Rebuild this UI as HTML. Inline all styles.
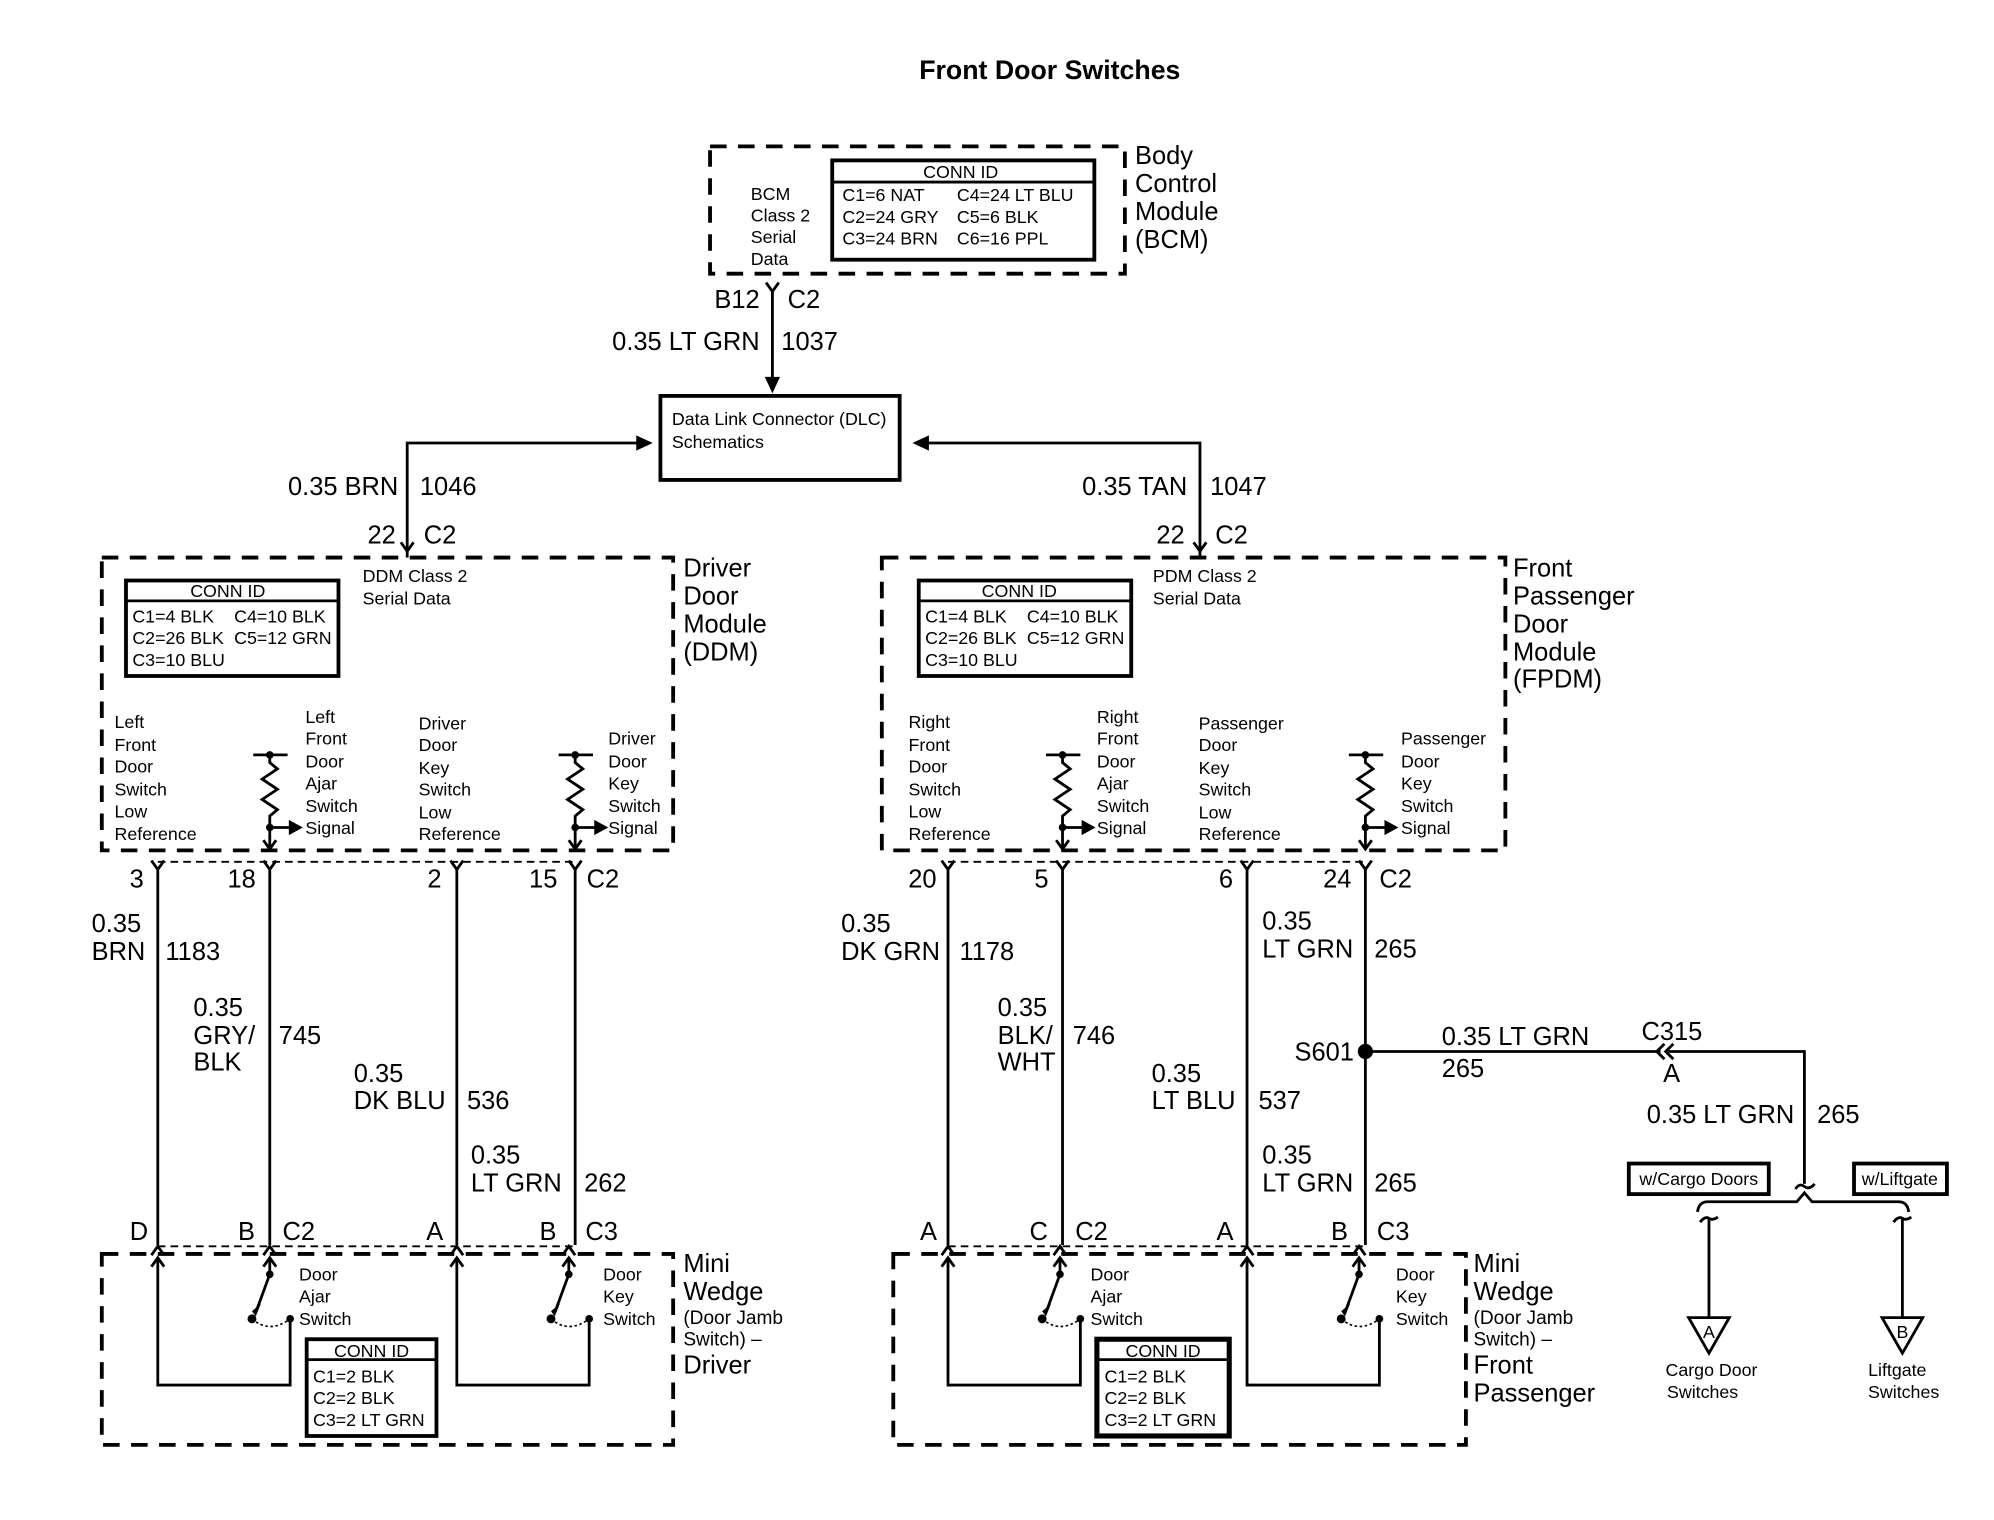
<!DOCTYPE html>
<html><head><meta charset="utf-8"><style>
html,body{margin:0;padding:0;background:#fff;}
svg{display:block;}
text{font-family:"Liberation Sans",Arial,sans-serif;fill:#000;}
.s{font-size:14px;}
.m{font-size:15px;}
.L{font-size:20px;}
.t{font-size:21px;font-weight:bold;}
.d{fill:none;stroke:#000;stroke-width:3;stroke-dasharray:13 9;}
.dt{fill:none;stroke:#000;stroke-width:1.5;stroke-dasharray:6 4;}
.w{fill:none;stroke:#000;stroke-width:2.2;}
.b{fill:none;stroke:#000;stroke-width:3;}
.thin{fill:none;stroke:#000;stroke-width:1.5;}
</style></head><body>
<svg width="1994" height="1520" viewBox="0 0 1567 1194" preserveAspectRatio="none" xmlns="http://www.w3.org/2000/svg">
<rect width="1567" height="1194" fill="#fff"/>
<text class="t" x="825" y="62" text-anchor="middle">Front Door Switches</text>

<!-- BCM -->
<rect class="d" x="558" y="115" width="326" height="100"/>
<text class="L" x="892" y="129">Body</text><text class="L" x="892" y="151">Control</text><text class="L" x="892" y="173">Module</text><text class="L" x="892" y="195">(BCM)</text>
<text class="s" x="590" y="157">BCM</text><text class="s" x="590" y="174">Class 2</text><text class="s" x="590" y="191">Serial</text><text class="s" x="590" y="208">Data</text>
<rect class="b" x="654" y="126" width="206" height="78"/><line class="w" x1="654" y1="143" x2="860" y2="143"/>
<text class="s" x="755" y="140" text-anchor="middle">CONN ID</text>
<text class="s" x="662" y="158">C1=6 NAT</text><text class="s" x="752" y="158">C4=24 LT BLU</text>
<text class="s" x="662" y="175">C2=24 GRY</text><text class="s" x="752" y="175">C5=6 BLK</text>
<text class="s" x="662" y="192">C3=24 BRN</text><text class="s" x="752" y="192">C6=16 PPL</text>
<polyline class="w" points="602,222 607,229 612,222"/>
<line class="w" x1="607" y1="229" x2="607" y2="298"/>
<polygon points="601,296 613,296 607,309"/>
<text class="L" x="597" y="242" text-anchor="end">B12</text><text class="L" x="619" y="242">C2</text>
<text class="L" x="597" y="275" text-anchor="end">0.35 LT GRN</text><text class="L" x="614" y="275">1037</text>

<!-- DLC -->
<rect class="b" x="519" y="311" width="188" height="66"/>
<text class="s" x="528" y="334">Data Link Connector (DLC)</text><text class="s" x="528" y="352">Schematics</text>
<polyline class="w" points="320,432 320,348 502,348"/><polygon points="500,342 513,348 500,354"/>
<polyline class="w" points="943,432 943,348 728,348"/><polygon points="730,342 717,348 730,354"/>
<text class="L" x="313" y="389" text-anchor="end">0.35 BRN</text><text class="L" x="330" y="389">1046</text>
<text class="L" x="311" y="427" text-anchor="end">22</text><text class="L" x="333" y="427">C2</text>
<polyline class="w" points="315,426 320,433 325,426"/><line class="w" x1="320" y1="433" x2="320" y2="438"/>
<text class="L" x="933" y="389" text-anchor="end">0.35 TAN</text><text class="L" x="951" y="389">1047</text>
<text class="L" x="931" y="427" text-anchor="end">22</text><text class="L" x="955" y="427">C2</text>
<polyline class="w" points="938,426 943,433 948,426"/><line class="w" x1="943" y1="433" x2="943" y2="438"/>

<!-- DDM -->
<rect class="d" x="80" y="438" width="449" height="230"/>
<text class="L" x="537" y="453">Driver</text><text class="L" x="537" y="475">Door</text><text class="L" x="537" y="497">Module</text><text class="L" x="537" y="519">(DDM)</text>
<rect class="b" x="99" y="456" width="167" height="75"/><line class="w" x1="99" y1="472" x2="266" y2="472"/>
<text class="s" x="179" y="469" text-anchor="middle">CONN ID</text>
<text class="s" x="104" y="489">C1=4 BLK</text><text class="s" x="184" y="489">C4=10 BLK</text>
<text class="s" x="104" y="506">C2=26 BLK</text><text class="s" x="184" y="506">C5=12 GRN</text>
<text class="s" x="104" y="523">C3=10 BLU</text>
<text class="s" x="285" y="457">DDM Class 2</text><text class="s" x="285" y="475">Serial Data</text>
<g class="s">
<text x="90" y="572">Left</text><text x="90" y="590">Front</text><text x="90" y="607">Door</text><text x="90" y="625">Switch</text><text x="90" y="642">Low</text><text x="90" y="660">Reference</text>
<text x="240" y="568">Left</text><text x="240" y="585">Front</text><text x="240" y="603">Door</text><text x="240" y="620">Ajar</text><text x="240" y="638">Switch</text><text x="240" y="655">Signal</text>
<text x="329" y="573">Driver</text><text x="329" y="590">Door</text><text x="329" y="608">Key</text><text x="329" y="625">Switch</text><text x="329" y="643">Low</text><text x="329" y="660">Reference</text>
<text x="478" y="585">Driver</text><text x="478" y="603">Door</text><text x="478" y="620">Key</text><text x="478" y="638">Switch</text><text x="478" y="655">Signal</text>
</g>

<!-- FPDM -->
<rect class="d" x="693" y="438" width="490" height="230"/>
<text class="L" x="1189" y="453">Front</text><text class="L" x="1189" y="475">Passenger</text><text class="L" x="1189" y="497">Door</text><text class="L" x="1189" y="519">Module</text><text class="L" x="1189" y="540">(FPDM)</text>
<rect class="b" x="722" y="456" width="167" height="75"/><line class="w" x1="722" y1="472" x2="889" y2="472"/>
<text class="s" x="801" y="469" text-anchor="middle">CONN ID</text>
<text class="s" x="727" y="489">C1=4 BLK</text><text class="s" x="807" y="489">C4=10 BLK</text>
<text class="s" x="727" y="506">C2=26 BLK</text><text class="s" x="807" y="506">C5=12 GRN</text>
<text class="s" x="727" y="523">C3=10 BLU</text>
<text class="s" x="906" y="457">PDM Class 2</text><text class="s" x="906" y="475">Serial Data</text>
<g class="s">
<text x="714" y="572">Right</text><text x="714" y="590">Front</text><text x="714" y="607">Door</text><text x="714" y="625">Switch</text><text x="714" y="642">Low</text><text x="714" y="660">Reference</text>
<text x="862" y="568">Right</text><text x="862" y="585">Front</text><text x="862" y="603">Door</text><text x="862" y="620">Ajar</text><text x="862" y="638">Switch</text><text x="862" y="655">Signal</text>
<text x="942" y="573">Passenger</text><text x="942" y="590">Door</text><text x="942" y="608">Key</text><text x="942" y="625">Switch</text><text x="942" y="643">Low</text><text x="942" y="660">Reference</text>
<text x="1101" y="585">Passenger</text><text x="1101" y="603">Door</text><text x="1101" y="620">Key</text><text x="1101" y="638">Switch</text><text x="1101" y="655">Signal</text>
</g>

<!-- resistors -->
<g id="res">
<line class="w" x1="199" y1="593" x2="226" y2="593"/><circle cx="212" cy="593" r="3"/>
<polyline class="w" points="212,593 212,599 218,604 206,612 218,620 206,628 218,636 212,641 212,667"/>
<circle cx="212" cy="650" r="3"/><line class="w" x1="212" y1="650" x2="228" y2="650"/><polygon points="227,644 238,650 227,656"/>
<polyline class="w" points="207,660 212,667 217,660"/>
</g>
<use href="#res" x="240" y="0"/>
<use href="#res" x="623" y="0"/>
<use href="#res" x="861" y="0"/>

<!-- top pin rows -->
<line class="dt" x1="124" y1="677" x2="452" y2="677"/>
<line class="dt" x1="745" y1="677" x2="1073" y2="677"/>
<g id="py"><polyline class="w" points="119,676 124,683 129,676"/></g>
<use href="#py" x="88"/><use href="#py" x="235"/><use href="#py" x="328"/>
<use href="#py" x="621"/><use href="#py" x="711"/><use href="#py" x="856"/><use href="#py" x="949"/>
<g class="L">
<text x="113" y="697" text-anchor="end">3</text><text x="201" y="697" text-anchor="end">18</text><text x="347" y="697" text-anchor="end">2</text><text x="438" y="697" text-anchor="end">15</text><text x="461" y="697">C2</text>
<text x="736" y="697" text-anchor="end">20</text><text x="824" y="697" text-anchor="end">5</text><text x="969" y="697" text-anchor="end">6</text><text x="1062" y="697" text-anchor="end">24</text><text x="1084" y="697">C2</text>
</g>
<!-- vertical wires -->
<g class="w">
<line x1="124" y1="683" x2="124" y2="978"/><line x1="212" y1="683" x2="212" y2="978"/><line x1="359" y1="683" x2="359" y2="978"/><line x1="452" y1="683" x2="452" y2="978"/>
<line x1="745" y1="683" x2="745" y2="978"/><line x1="835" y1="683" x2="835" y2="978"/><line x1="980" y1="683" x2="980" y2="978"/><line x1="1073" y1="683" x2="1073" y2="978"/>
</g>
<g class="L">
<text x="72" y="732">0.35</text><text x="72" y="754">BRN</text><text x="130" y="754">1183</text>
<text x="152" y="798">0.35</text><text x="152" y="820">GRY/</text><text x="152" y="841">BLK</text><text x="219" y="820">745</text>
<text x="278" y="850">0.35</text><text x="278" y="871">DK BLU</text><text x="367" y="871">536</text>
<text x="370" y="914">0.35</text><text x="370" y="936">LT GRN</text><text x="459" y="936">262</text>
<text x="661" y="732">0.35</text><text x="661" y="754">DK GRN</text><text x="754" y="754">1178</text>
<text x="784" y="798">0.35</text><text x="784" y="820">BLK/</text><text x="784" y="841">WHT</text><text x="843" y="820">746</text>
<text x="905" y="850">0.35</text><text x="905" y="871">LT BLU</text><text x="989" y="871">537</text>
<text x="992" y="730">0.35</text><text x="992" y="752">LT GRN</text><text x="1080" y="752">265</text>
<text x="992" y="914">0.35</text><text x="992" y="936">LT GRN</text><text x="1080" y="936">265</text>
</g>
<!-- S601 / C315 -->
<circle cx="1073" cy="826" r="6"/>
<text class="L" x="1064" y="833" text-anchor="end">S601</text>
<line class="w" x1="1073" y1="826" x2="1305" y2="826"/>
<polyline class="w" points="1308,820 1302,826 1308,832"/><polyline class="w" points="1315,820 1309,826 1315,832"/>
<polyline class="w" points="1311,826 1418,826 1418,930"/>
<text class="L" x="1133" y="821">0.35 LT GRN</text><text class="L" x="1133" y="846">265</text>
<text class="L" x="1290" y="817">C315</text><text class="L" x="1307" y="850">A</text>
<text class="L" x="1410" y="882" text-anchor="end">0.35 LT GRN</text><text class="L" x="1428" y="882">265</text>
<rect class="b" x="1280" y="914" width="110" height="24"/><text class="s" x="1335" y="931" text-anchor="middle">w/Cargo Doors</text>
<rect class="b" x="1457" y="914" width="73" height="24"/><text class="s" x="1493" y="931" text-anchor="middle">w/Liftgate</text>
<path class="w" d="M1411,934 Q1414,929 1418,932 Q1422,935 1426,930"/>
<path class="w" d="M1334,952 Q1335,944 1342,944 L1412,944 L1418,937 L1424,944 L1492,944 Q1499,944 1500,952"/>
<path class="w" d="M1336,960 Q1340,955 1343,957 Q1346,959 1350,956"/>
<path class="w" d="M1488,960 Q1492,955 1495,957 Q1498,959 1502,956"/>
<line class="w" x1="1343" y1="957" x2="1343" y2="1035"/><line class="w" x1="1495" y1="957" x2="1495" y2="1035"/>
<polygon class="w" points="1327,1035 1359,1035 1343,1063"/><text class="s" x="1343" y="1051" text-anchor="middle">A</text>
<polygon class="w" points="1479,1035 1511,1035 1495,1063"/><text class="s" x="1495" y="1051" text-anchor="middle">B</text>
<text class="s" x="1345" y="1081" text-anchor="middle">Cargo Door</text><text class="s" x="1338" y="1098" text-anchor="middle">Switches</text>
<text class="s" x="1491" y="1081" text-anchor="middle">Liftgate</text><text class="s" x="1496" y="1098" text-anchor="middle">Switches</text>

<!-- bottom pins -->
<line class="dt" x1="124" y1="979" x2="452" y2="979"/>
<line class="dt" x1="745" y1="979" x2="1073" y2="979"/>
<g class="L">
<text x="102" y="974">D</text><text x="187" y="974">B</text><text x="222" y="974">C2</text><text x="335" y="974">A</text><text x="424" y="974">B</text><text x="460" y="974">C3</text>
<text x="723" y="974">A</text><text x="809" y="974">C</text><text x="845" y="974">C2</text><text x="956" y="974">A</text><text x="1046" y="974">B</text><text x="1082" y="974">C3</text>
</g>

<!-- Mini wedge boxes -->
<rect class="d" x="80" y="985" width="449" height="150"/>
<text class="L" x="537" y="999">Mini</text><text class="L" x="537" y="1021">Wedge</text>
<text class="m" x="537" y="1040">(Door Jamb</text><text class="m" x="537" y="1057">Switch) –</text><text class="L" x="537" y="1079">Driver</text>
<rect class="d" x="702" y="985" width="450" height="150"/>
<text class="L" x="1158" y="999">Mini</text><text class="L" x="1158" y="1021">Wedge</text>
<text class="m" x="1158" y="1040">(Door Jamb</text><text class="m" x="1158" y="1057">Switch) –</text><text class="L" x="1158" y="1079">Front</text><text class="L" x="1158" y="1101">Passenger</text>

<!-- loop + switch group -->
<g id="sw">
<polyline class="w" points="119,986 124,979 129,986"/>
<polyline class="w" points="119,995 124,988 129,995"/>
<polyline class="w" points="124,988 124,1088 228,1088 228,1036"/>
<polyline class="w" points="207,986 212,979 217,986"/>
<polyline class="w" points="207,995 212,988 217,995"/>
<line class="w" x1="212" y1="988" x2="212" y2="1001"/>
<circle cx="212" cy="1001" r="3"/>
<line class="w" x1="212" y1="1001" x2="201" y2="1031"/>
<polygon points="198,1030 205,1024 201,1034"/>
<circle cx="198" cy="1036" r="3.5"/><circle cx="228" cy="1036" r="3"/>
<path d="M198,1036 Q212,1048 228,1036" fill="none" stroke="#000" stroke-width="1.3" stroke-dasharray="2 2"/>
</g>
<use href="#sw" x="235" y="0"/>
<use href="#sw" x="621" y="0"/>
<use href="#sw" x="856" y="0"/>
<g class="s">
<text x="235" y="1006">Door</text><text x="235" y="1023">Ajar</text><text x="235" y="1041">Switch</text>
<text x="474" y="1006">Door</text><text x="474" y="1023">Key</text><text x="474" y="1041">Switch</text>
<text x="857" y="1006">Door</text><text x="857" y="1023">Ajar</text><text x="857" y="1041">Switch</text>
<text x="1097" y="1006">Door</text><text x="1097" y="1023">Key</text><text x="1097" y="1041">Switch</text>
</g>
<rect class="b" x="241" y="1052" width="102" height="76"/><line class="w" x1="241" y1="1068" x2="343" y2="1068"/>
<text class="s" x="292" y="1066" text-anchor="middle">CONN ID</text>
<text class="s" x="246" y="1086">C1=2 BLK</text><text class="s" x="246" y="1103">C2=2 BLK</text><text class="s" x="246" y="1120">C3=2 LT GRN</text>
<rect fill="none" stroke="#000" stroke-width="4" x="862" y="1052" width="104" height="76"/><line class="w" x1="862" y1="1068" x2="966" y2="1068"/>
<text class="s" x="914" y="1066" text-anchor="middle">CONN ID</text>
<text class="s" x="868" y="1086">C1=2 BLK</text><text class="s" x="868" y="1103">C2=2 BLK</text><text class="s" x="868" y="1120">C3=2 LT GRN</text>
</svg>
</body></html>
